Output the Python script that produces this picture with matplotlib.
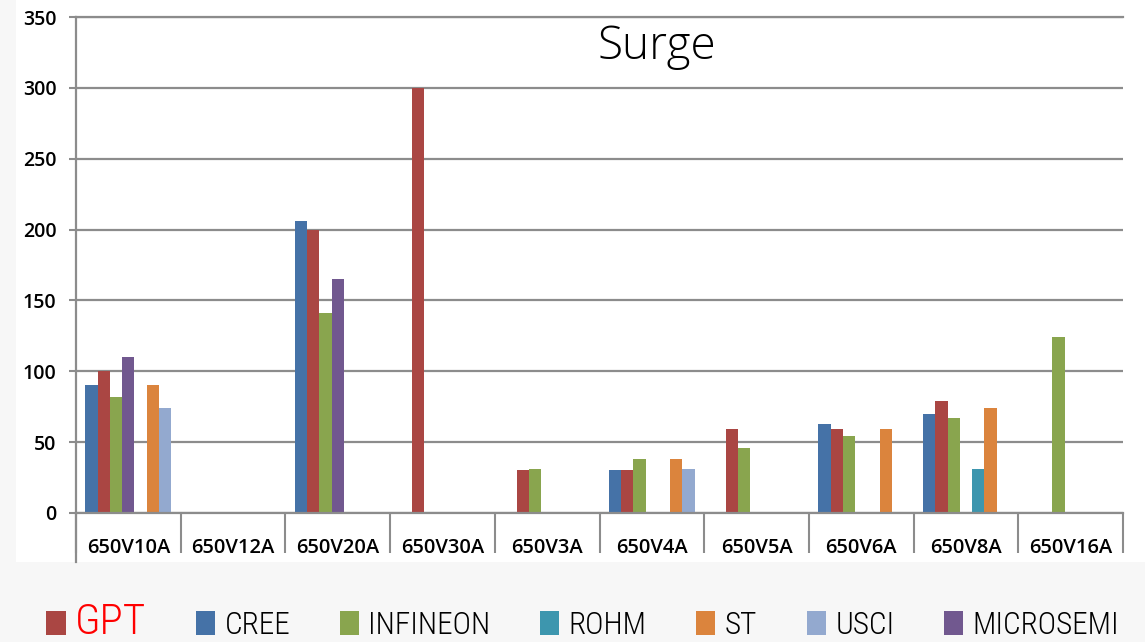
import numpy as np
import matplotlib.pyplot as plt
from matplotlib import font_manager
from matplotlib.patches import Patch, Rectangle

nan = np.nan
categories = ['650V10A', '650V12A', '650V20A', '650V30A', '650V3A',
              '650V4A', '650V5A', '650V6A', '650V8A', '650V16A']

# values per maker, one per category (nan = no bar)
cree      = [90,  nan, 206, nan, nan, 30,  nan, 63,  70,  nan]
gpt       = [100, nan, 200, 300, 30,  30,  59,  59,  79,  nan]
infineon  = [82,  nan, 141, nan, 31,  38,  46,  54,  67,  124]
microsemi = [110, nan, 165, nan, nan, nan, nan, nan, nan, nan]
rohm      = [nan, nan, nan, nan, nan, nan, nan, nan, 31,  nan]
st        = [90,  nan, nan, nan, nan, 38,  nan, 59,  74,  nan]
usci      = [74,  nan, nan, nan, nan, 31,  nan, nan, nan, nan]

yticks = [0, 50, 100, 150, 200, 250, 300, 350]

# bar order inside a group
bar_series = [('CREE', cree, '#4572A7'), ('GPT', gpt, '#AA4643'),
              ('INFINEON', infineon, '#89A54E'), ('MICROSEMI', microsemi, '#71588F'),
              ('ROHM', rohm, '#3D96AE'), ('ST', st, '#DB843D'), ('USCI', usci, '#93A9CF')]
legend_order = ['GPT', 'CREE', 'INFINEON', 'ROHM', 'ST', 'USCI', 'MICROSEMI']


def pick_font(names):
    for n in names:
        try:
            font_manager.findfont(n, fallback_to_default=False)
            return n
        except ValueError:
            pass
    return 'DejaVu Sans'


narrow = pick_font(['Liberation Sans Narrow', 'Roboto Condensed', 'Open Sans Condensed', 'Roboto'])
base = pick_font(['Open Sans', 'Lato', 'Roboto'])
plt.rcParams['font.family'] = [base, 'DejaVu Sans']

fig = plt.figure(figsize=(11.45, 6.42), dpi=100, facecolor='#f7f7f7')
# white slide area behind the chart
fig.patches.append(Rectangle((16 / 1145, 1 - 562 / 642), 1, 562 / 642, transform=fig.transFigure,
                             facecolor='white', edgecolor='none', zorder=-10))
ax = fig.add_axes([76 / 1145, 1 - 513 / 642, (1123 - 76) / 1145, (513 - 17) / 642])

x = np.arange(len(categories))
w = 0.117
for j, (name, vals, col) in enumerate(bar_series):
    ax.bar(x + (j - 3) * w, vals, width=w, color=col, edgecolor='none', label=name)

ax.set_xlim(-0.5, len(categories) - 0.5)
ax.set_ylim(0, 350)
ax.set_yticks(yticks)
ax.set_axisbelow(True)
ax.yaxis.grid(True, color='#8c8c8c', linewidth=1.6)
ax.tick_params(axis='y', direction='out', length=5, width=1.5, color='#8c8c8c',
               labelsize=14, pad=9)
for t in ax.get_yticklabels():
    t.set_fontweight('semibold')

ax.set_xticks(x)
ax.set_xticklabels(categories, fontsize=14.5, fontweight='semibold')
ax.set_xticks(np.arange(len(categories) + 1) - 0.5, minor=True)
ax.tick_params(axis='x', which='major', length=0, pad=18)
ax.tick_params(axis='x', which='minor', direction='out', length=29, width=1.5, color='#8c8c8c')

ax.spines['right'].set_visible(False)
for s in ['left', 'bottom', 'top']:
    ax.spines[s].set_color('#8c8c8c')
    ax.spines[s].set_linewidth(1.6)
# left axis line runs down past the label cells
ax.plot([0, 0], [0, -49 / 496], transform=ax.transAxes, clip_on=False,
        color='#8c8c8c', linewidth=1.6)

ax.text(0.555, 0.94, 'Surge', transform=ax.transAxes, ha='center', va='center',
        fontsize=33, fontweight='light', color='black')

colors = {n: c for n, _, c in bar_series}
handles = [Patch(facecolor=colors[n], edgecolor='none') for n in legend_order]
leg = fig.legend(handles, legend_order, ncol=7, loc='center', bbox_to_anchor=(0.509, 1 - 622 / 642),
                 frameon=False, prop={'family': narrow, 'size': 22.5}, handlelength=0.62,
                 handleheight=0.8, handletextpad=0.3, columnspacing=1.58)
for t in leg.get_texts():
    t.set_fontweight('light')
leg.get_texts()[0].set_color('red')
leg.get_texts()[0].set_fontsize(31)

fig.savefig('out.png', dpi=100, facecolor=fig.get_facecolor())
